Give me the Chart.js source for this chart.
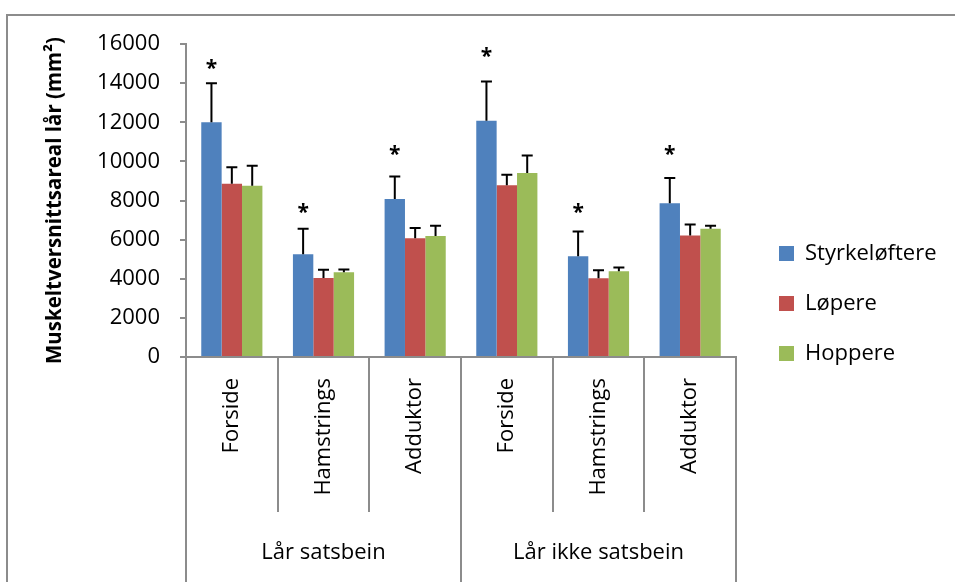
<!DOCTYPE html>
<html>
<head>
<meta charset="utf-8">
<script src="https://cdn.jsdelivr.net/npm/chart.js@4/dist/chart.umd.min.js"></script>
<style>
  html, body { margin: 0; padding: 0; background: #fff; }
  #wrap { width: 955px; height: 582px; position: relative; }
</style>
</head>
<body>
<div id="wrap"><canvas id="c" width="955" height="582"></canvas></div>
<script>
// Muscle regions, grouped by thigh
const categories = ['Forside', 'Hamstrings', 'Adduktor', 'Forside', 'Hamstrings', 'Adduktor'];
const groups = ['Lår satsbein', 'Lår ikke satsbein'];

// Mean cross-sectional area (mm²) and standard deviation per group of athletes
const styrkeloftere = [12000, 5250, 8080, 12080, 5150, 7860];
const styrkeloftereSD = [2000, 1300, 1150, 2000, 1260, 1290];
const lopere = [8850, 4040, 6070, 8780, 4030, 6210];
const lopereSD = [850, 420, 530, 530, 410, 560];
const hoppere = [8760, 4330, 6190, 9410, 4380, 6560];
const hoppereSD = [1020, 140, 525, 885, 190, 150];

// Level (mm²) of the significance mark above each Styrkeløftere bar
const significanceLevel = [14940, 7580, 10560, 15540, 7580, 10560];

const yTicks = [0, 2000, 4000, 6000, 8000, 10000, 12000, 14000, 16000];

const FONT = '"Open Sans", Lato, sans-serif';
const AXIS_GREY = '#8c8c8c';
const FONT_SIZE = 22;

// Legend sizing: keep plot right edge fixed regardless of text metrics
// (a vertical legend is its column width + padding + 10)
const mctx = document.createElement('canvas').getContext('2d');
mctx.font = FONT_SIZE + 'px ' + FONT;
const legendTextW = Math.max(...['Styrkeløftere', 'Løpere', 'Hoppere'].map(t => mctx.measureText(t).width));
const legendW = 28 + 15 + FONT_SIZE / 2 + legendTextW + 10;
const padRight = Math.max(0, 955 - 736 - 15 - legendW);

const errorBars = {
  id: 'errorBars',
  afterDatasetsDraw(chart) {
    const { ctx } = chart;
    const y = chart.scales.y;
    ctx.save();
    ctx.strokeStyle = '#000';
    ctx.lineWidth = 2;
    chart.data.datasets.forEach((ds, di) => {
      const meta = chart.getDatasetMeta(di);
      meta.data.forEach((bar, i) => {
        const top = y.getPixelForValue(ds.data[i] + ds.sd[i]);
        const half = 5.5;
        ctx.beginPath();
        ctx.moveTo(bar.x, bar.y);
        ctx.lineTo(bar.x, top);
        ctx.moveTo(bar.x - half, top);
        ctx.lineTo(bar.x + half, top);
        ctx.stroke();
      });
    });
    // significance marks over the Styrkeløftere bars
    const meta0 = chart.getDatasetMeta(0);
    ctx.fillStyle = '#000';
    ctx.font = 'bold 21px ' + FONT;
    ctx.textAlign = 'center';
    ctx.textBaseline = 'alphabetic';
    const m = ctx.measureText('*');
    const shift = (m.actualBoundingBoxAscent - m.actualBoundingBoxDescent) / 2;
    meta0.data.forEach((bar, i) => {
      ctx.fillText('*', bar.x, y.getPixelForValue(significanceLevel[i]) + shift);
    });
    ctx.restore();
  }
};

const frame = {
  id: 'frame',
  beforeDraw(chart) {
    const { ctx } = chart;
    ctx.save();
    ctx.fillStyle = '#fff';
    ctx.fillRect(0, 0, chart.width, chart.height);
    ctx.strokeStyle = AXIS_GREY;
    ctx.lineWidth = 2;
    ctx.strokeRect(7, 15, 1000, 1000);
    ctx.restore();
  }
};

new Chart(document.getElementById('c'), {
  type: 'bar',
  data: {
    labels: categories,
    datasets: [
      { label: 'Styrkeløftere', data: styrkeloftere, sd: styrkeloftereSD, backgroundColor: '#4F81BD' },
      { label: 'Løpere', data: lopere, sd: lopereSD, backgroundColor: '#C0504D' },
      { label: 'Hoppere', data: hoppere, sd: hoppereSD, backgroundColor: '#9BBB59' }
    ]
  },
  options: {
    responsive: false,
    animation: false,
    devicePixelRatio: 1,
    categoryPercentage: 0.667,
    barPercentage: 1.0,
    layout: { padding: { left: 10, right: padRight, top: 44, bottom: 19 } },
    plugins: {
      tooltip: { enabled: false },
      legend: {
        position: 'right',
        align: 'center',
        maxWidth: 260,
        labels: {
          boxWidth: 15,
          boxHeight: 15,
          padding: 28,
          color: '#000',
          font: { family: FONT, size: FONT_SIZE }
        }
      }
    },
    scales: {
      x: {
        type: 'category',
        position: 'bottom',
        weight: 0,
        offset: true,
        grid: { offset: true, drawOnChartArea: false, drawTicks: true, tickLength: 155, color: AXIS_GREY, lineWidth: 2 },
        border: { display: true, color: AXIS_GREY, width: 2 },
        ticks: {
          autoSkip: false, minRotation: 90, maxRotation: 90, padding: -134,
          color: '#000', font: { family: FONT, size: FONT_SIZE }
        },
        afterFit(s) { s.height = 155; }
      },
      x2: {
        type: 'category',
        position: 'bottom',
        weight: 1,
        labels: groups,
        offset: true,
        grid: { offset: true, drawOnChartArea: false, drawTicks: true, tickLength: 75, color: AXIS_GREY, lineWidth: 2 },
        border: { display: false },
        ticks: { autoSkip: false, maxRotation: 0, padding: -47, color: '#000', font: { family: FONT, size: FONT_SIZE } },
        afterFit(s) { s.height = 51; }
      },
      y: {
        min: 0,
        max: 16000,
        afterBuildTicks(s) { s.ticks = yTicks.map(v => ({ value: v })); },
        grid: { drawOnChartArea: false, drawTicks: true, tickLength: 6, color: AXIS_GREY, lineWidth: 2 },
        border: { display: true, color: AXIS_GREY, width: 2 },
        ticks: { padding: 20, color: '#000', font: { family: FONT, size: FONT_SIZE }, callback: v => String(v) },
        title: {
          display: true,
          text: 'Muskeltversnittsareal lår (mm²)',
          color: '#000',
          font: { family: FONT, size: 20.5, weight: 'bold' },
          padding: { top: 33, bottom: 0 }
        },
        afterFit(s) { s.width = 176; }
      },
      spacer: {
        type: 'linear',
        position: 'right',
        display: true,
        grid: { display: false, drawTicks: false },
        border: { display: false },
        ticks: { display: false },
        afterFit(s) { s.width = 15; }
      }
    }
  },
  plugins: [frame, errorBars]
});
</script>
</body>
</html>
